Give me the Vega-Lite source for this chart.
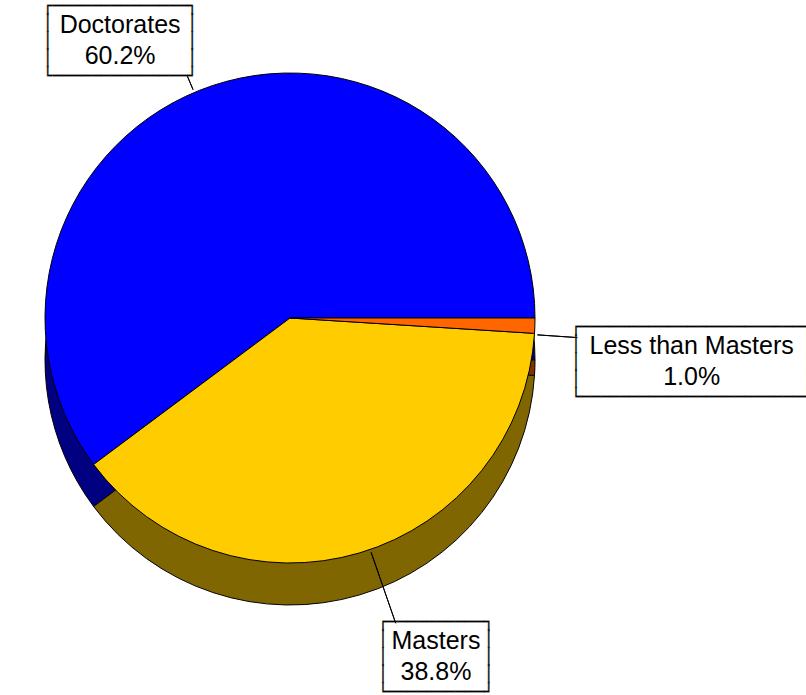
{
  "$schema": "https://vega.github.io/schema/vega-lite/v6.json",
  "width": 580,
  "height": 636,
  "autosize": {"type": "none"},
  "padding": {"left": 0, "top": 0, "right": 226, "bottom": 59},
  "background": "white",
  "config": {"view": {"stroke": null}},
  "data": {
    "values": [
      {"category": "Doctorates", "value": 60.2},
      {"category": "Masters", "value": 38.8},
      {"category": "Less than Masters", "value": 1.0}
    ]
  },
  "transform": [
    {"calculate": "[datum.category, format(datum.value, '.1f') + '%']", "as": "label"}
  ],
  "resolve": {"scale": {"theta": "independent", "radius": "independent", "color": "independent"}},
  "layer": [
    {
      "mark": {"type": "arc", "radius": 245, "yOffset": 42, "stroke": "#000000", "strokeWidth": 1},
      "encoding": {
        "theta": {"field": "value", "type": "quantitative", "stack": true, "scale": {"range": [1.570796, 7.853982]}},
        "order": {"field": "value", "type": "quantitative", "sort": "ascending"},
        "color": {
          "field": "category", "type": "nominal", "legend": null,
          "scale": {"domain": ["Doctorates", "Masters", "Less than Masters"], "range": ["#000080", "#806600", "#803300"]}
        }
      }
    },
    {
      "mark": {"type": "arc", "radius": 245, "stroke": "#000000", "strokeWidth": 1},
      "encoding": {
        "theta": {"field": "value", "type": "quantitative", "stack": true, "scale": {"range": [1.570796, 7.853982]}},
        "order": {"field": "value", "type": "quantitative", "sort": "ascending"},
        "color": {
          "field": "category", "type": "nominal", "legend": null,
          "scale": {"domain": ["Doctorates", "Masters", "Less than Masters"], "range": ["#0000FF", "#FFCC00", "#FF6600"]}
        }
      }
    },
    {
      "mark": {"type": "arc", "radius2": 248, "padAngle": 3.1416, "fill": "transparent", "stroke": "#000000", "strokeWidth": 1},
      "encoding": {
        "theta": {"field": "value", "type": "quantitative", "stack": true,
          "scale": {"domain": [0, 1, 39.8, 100], "range": [2.003638, 1.274090, 4.342330, 7.421237], "zero": false, "nice": false}},
        "radius": {"field": "value", "type": "quantitative",
          "scale": {"type": "linear", "domain": [1, 38.8, 60.2], "range": [288, 323, 263], "zero": false, "nice": false}},
        "order": {"field": "value", "type": "quantitative", "sort": "ascending"}
      }
    },
    {
      "mark": {"type": "text", "font": "DejaVu Sans Mono", "fontSize": 16, "lineHeight": 17.5, "align": "center", "baseline": "middle", "dy": -35, "color": "#000000", "stroke": "#333333", "strokeWidth": 0.3},
      "encoding": {
        "theta": {"field": "value", "type": "quantitative", "stack": true,
          "scale": {"domain": [0, 0.5, 20.4, 69.9, 100], "range": [1.570796, 1.679006, 2.734930, 5.733038, 7.853982], "zero": false, "nice": false}},
        "radius": {"field": "value", "type": "quantitative",
          "scale": {"type": "linear", "domain": [1, 38.8, 60.2], "range": [404, 369, 325], "zero": false, "nice": false}},
        "order": {"field": "value", "type": "quantitative", "sort": "ascending"},
        "text": {
          "condition": [
            {"test": "datum.category === 'Doctorates'", "value": ["┌──────────────┐", "│\u00a0\u00a0\u00a0\u00a0\u00a0\u00a0\u00a0\u00a0\u00a0\u00a0\u00a0\u00a0\u00a0\u00a0│", "│\u00a0\u00a0\u00a0\u00a0\u00a0\u00a0\u00a0\u00a0\u00a0\u00a0\u00a0\u00a0\u00a0\u00a0│", "│\u00a0\u00a0\u00a0\u00a0\u00a0\u00a0\u00a0\u00a0\u00a0\u00a0\u00a0\u00a0\u00a0\u00a0│", "└──────────────┘"]},
            {"test": "datum.category === 'Masters'", "value": ["┌──────────┐", "│\u00a0\u00a0\u00a0\u00a0\u00a0\u00a0\u00a0\u00a0\u00a0\u00a0│", "│\u00a0\u00a0\u00a0\u00a0\u00a0\u00a0\u00a0\u00a0\u00a0\u00a0│", "│\u00a0\u00a0\u00a0\u00a0\u00a0\u00a0\u00a0\u00a0\u00a0\u00a0│", "└──────────┘"]}
          ],
          "value": ["┌───────────────────────┐", "│\u00a0\u00a0\u00a0\u00a0\u00a0\u00a0\u00a0\u00a0\u00a0\u00a0\u00a0\u00a0\u00a0\u00a0\u00a0\u00a0\u00a0\u00a0\u00a0\u00a0\u00a0\u00a0\u00a0│", "│\u00a0\u00a0\u00a0\u00a0\u00a0\u00a0\u00a0\u00a0\u00a0\u00a0\u00a0\u00a0\u00a0\u00a0\u00a0\u00a0\u00a0\u00a0\u00a0\u00a0\u00a0\u00a0\u00a0│", "│\u00a0\u00a0\u00a0\u00a0\u00a0\u00a0\u00a0\u00a0\u00a0\u00a0\u00a0\u00a0\u00a0\u00a0\u00a0\u00a0\u00a0\u00a0\u00a0\u00a0\u00a0\u00a0\u00a0│", "└───────────────────────┘"]
        }
      }
    },
    {
      "mark": {"type": "text", "font": "Liberation Sans", "fontSize": 25, "lineHeight": 31, "align": "center", "baseline": "middle", "dy": -15.5, "color": "#000000"},
      "encoding": {
        "theta": {"field": "value", "type": "quantitative", "stack": true,
          "scale": {"domain": [0, 0.5, 20.4, 69.9, 100], "range": [1.570796, 1.679006, 2.734930, 5.733038, 7.853982], "zero": false, "nice": false}},
        "radius": {"field": "value", "type": "quantitative",
          "scale": {"type": "linear", "domain": [1, 38.8, 60.2], "range": [404, 369, 325], "zero": false, "nice": false}},
        "order": {"field": "value", "type": "quantitative", "sort": "ascending"},
        "text": {"field": "label", "type": "nominal"}
      }
    }
  ]
}
